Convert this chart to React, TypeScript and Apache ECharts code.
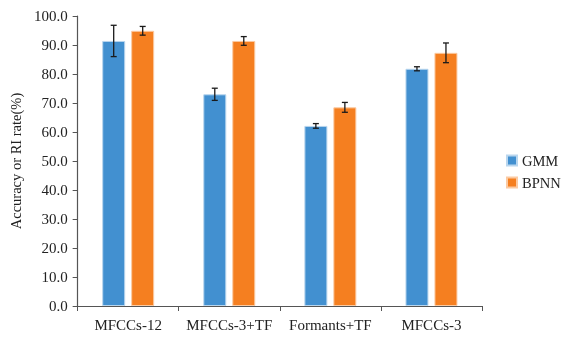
import React, { useEffect, useRef } from "react";
import * as echarts from "echarts";

const categories = ["MFCCs-12", "MFCCs-3+TF", "Formants+TF", "MFCCs-3"];
const gmmValues = [91.4, 73.0, 62.1, 81.8];
const gmmErrors = [5.4, 2.1, 0.8, 0.7];
const bpnnValues = [94.9, 91.4, 68.5, 87.3];
const bpnnErrors = [1.5, 1.5, 1.7, 3.4];
const yTicks = [0, 10, 20, 30, 40, 50, 60, 70, 80, 90, 100];

const BLUE = "#4290D0";
const ORANGE = "#F57F20";
const FONT = "Liberation Serif";

function errorSeries(name: string, values: number[], errors: number[], offset: number) {
  return {
    type: "custom",
    name: name + "-err",
    z: 10,
    silent: true,
    data: values.map((v, i) => [i, v - errors[i], v + errors[i]]),
    renderItem: (params: any, api: any) => {
      const idx = api.value(0);
      const lo = api.coord([idx, api.value(1)]);
      const hi = api.coord([idx, api.value(2)]);
      const x = lo[0] + offset;
      const cap = 3;
      const style = { stroke: "#1a1a1a", lineWidth: 1.3 };
      return {
        type: "group",
        children: [
          { type: "line", shape: { x1: x, y1: lo[1], x2: x, y2: hi[1] }, style },
          { type: "line", shape: { x1: x - cap, y1: lo[1], x2: x + cap, y2: lo[1] }, style },
          { type: "line", shape: { x1: x - cap, y1: hi[1], x2: x + cap, y2: hi[1] }, style },
        ],
      };
    },
  };
}

export default function App() {
  const ref = useRef<HTMLDivElement>(null);
  useEffect(() => {
    if (!ref.current) return;
    const chart = echarts.init(ref.current, undefined, { renderer: "svg" });
    chart.setOption({
      animation: false,
      textStyle: { fontFamily: FONT },
      grid: { left: 76, right: 82, top: 16, bottom: 31, containLabel: false },
      legend: {
        orient: "vertical",
        left: 506,
        top: 153,
        padding: 0,
        itemWidth: 10,
        itemHeight: 10,
        itemGap: 7,
        icon: "rect",
        data: ["GMM", "BPNN"],
        textStyle: { fontFamily: FONT, fontSize: 14.5, color: "#222" },
      },
      xAxis: {
        type: "category",
        data: categories,
        axisLine: { lineStyle: { color: "#555", width: 1.2 } },
        axisTick: { show: true, alignWithLabel: false, length: 5, lineStyle: { color: "#555" } },
        axisLabel: {
          color: "#222",
          fontSize: 15,
          fontFamily: FONT,
          margin: 11,
          interval: 0,
          hideOverlap: false,
        },
      },
      yAxis: {
        type: "value",
        min: 0,
        max: 100,
        interval: 10,
        name: "Accuracy or RI rate(%)",
        nameLocation: "middle",
        nameGap: 52,
        nameTextStyle: { color: "#222", fontSize: 14.5, fontFamily: FONT },
        axisLine: { show: true, lineStyle: { color: "#555", width: 1.2 } },
        axisTick: { show: true, length: 5, lineStyle: { color: "#555" } },
        splitLine: { show: false },
        axisLabel: {
          color: "#222",
          fontSize: 15,
          fontFamily: FONT,
          margin: 10,
          formatter: (v: number) => (yTicks.includes(v) ? v.toFixed(1) : ""),
        },
      },
      series: [
        {
          name: "GMM",
          type: "bar",
          data: gmmValues,
          barWidth: 23,
          barGap: "26%",
          itemStyle: { color: BLUE, borderColor: "#b9d6ee", borderWidth: 1 },
        },
        {
          name: "BPNN",
          type: "bar",
          data: bpnnValues,
          barWidth: 23,
          barGap: "26%",
          itemStyle: { color: ORANGE, borderColor: "#fbcaa2", borderWidth: 1 },
        },
        errorSeries("GMM", gmmValues, gmmErrors, -14.5),
        errorSeries("BPNN", bpnnValues, bpnnErrors, 14.5),
      ],
    });
    return () => chart.dispose();
  }, []);
  return (
    <div
      ref={ref}
      style={{ position: "fixed", left: 0, top: 0, width: 564, height: 337 }}
    />
  );
}
